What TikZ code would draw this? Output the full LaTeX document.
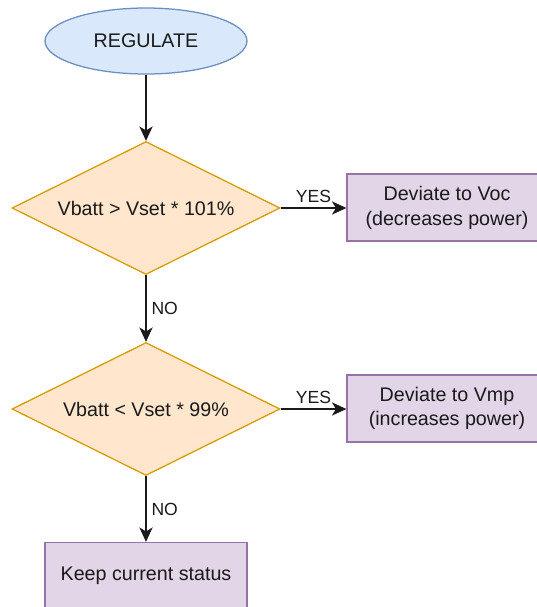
\documentclass[tikz,border=0pt]{standalone}
\usepackage{fontspec}
\setmainfont{Liberation Sans}
\usepackage{tikz}
\usetikzlibrary{arrows.meta,positioning,shapes.geometric}
\definecolor{bluefill}{HTML}{DAE8FC}
\definecolor{blueline}{HTML}{6C8EBF}
\definecolor{orangefill}{HTML}{FFE6CC}
\definecolor{orangeline}{HTML}{D79B00}
\definecolor{purplefill}{HTML}{E1D5E7}
\definecolor{purpleline}{HTML}{9673A6}
\definecolor{ink}{HTML}{1A1A1A}
\tikzset{arr/.style={-{Stealth[length=3.6mm,width=3.3mm,inset=1mm]},line width=0.9pt,draw=ink},
  startnode/.style={ellipse,draw=blueline,fill=bluefill,line width=0.9pt,minimum width=5.05cm,minimum height=1.65cm,inner sep=0pt,font=\fontsize{14}{17.7}\selectfont,text=ink},
  check/.style={diamond,aspect=2.015,draw=orangeline,fill=orangefill,line width=0.9pt,minimum width=6.7cm,minimum height=3.325cm,inner sep=0pt,font=\fontsize{14}{17.7}\selectfont,text=ink},
  action/.style={rectangle,draw=purpleline,fill=purplefill,line width=0.9pt,minimum width=5cm,minimum height=1.675cm,align=center,inner sep=0pt,font=\fontsize{14}{17.7}\selectfont,text=ink},
  answer/.style={font=\fontsize{12.5}{14}\selectfont,text=ink,inner sep=3.5pt}}

\begin{document}
\begin{tikzpicture}
\useasboundingbox (0,0) rectangle (13.425,-15.175);
\node[startnode] (regulate) at (3.65,-1.025) {REGULATE};
\node[check] (over) at (3.65,-5.2) {Vbatt > Vset * 101\%};
\node[check] (under) at (3.65,-10.225) {Vbatt < Vset * 99\%};
\node[action] (voc) at (11.175,-5.19) {Deviate to Voc\\(decreases power)};
\node[action] (vmp) at (11.175,-10.21) {Deviate to Vmp\\(increases power)};
\node[action,minimum width=5.05cm] (keep) at (3.65,-14.4) {Keep current status};
\draw[arr] (regulate) -- (over);
\draw[arr] (over) -- node[answer,anchor=south] {YES} (over.east -| voc.west);
\draw[arr] (over) -- node[answer,anchor=west] {NO} (under);
\draw[arr] (under) -- node[answer,anchor=south] {YES} (under.east -| vmp.west);
\draw[arr] (under) -- node[answer,anchor=west] {NO} (keep);
\end{tikzpicture}
\end{document}
